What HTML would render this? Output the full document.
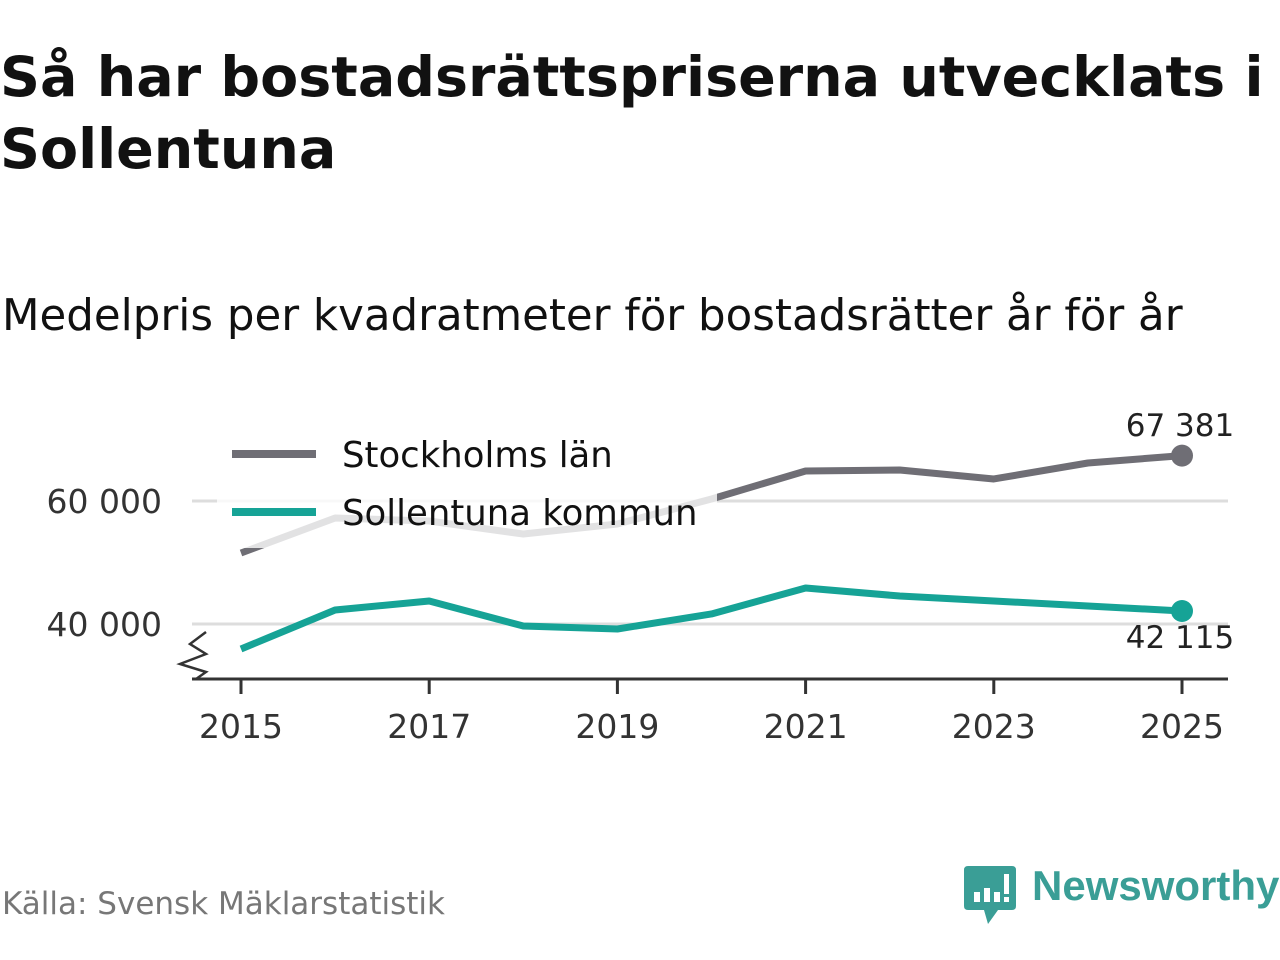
<!DOCTYPE html>
<html><head><meta charset="utf-8">
<style>
body{margin:0;width:1280px;height:960px;background:#fff;font-family:"DejaVu Sans",sans-serif;overflow:hidden;position:relative}
.t{position:absolute;left:0px;top:42px;font-size:55.5px;font-weight:bold;color:#111;line-height:72px;letter-spacing:0px}
.s{position:absolute;left:2px;top:291px;font-size:43.5px;color:#111}
.src{position:absolute;left:2px;top:886px;font-size:31px;color:#777}
.logo{position:absolute;left:1032px;top:862px;font-size:42px;color:#3a9e96;font-weight:bold;font-family:"Liberation Sans",sans-serif}
</style></head><body>
<div class="t">Så har bostadsrättspriserna utvecklats i<br>Sollentuna</div>
<div class="s">Medelpris per kvadratmeter för bostadsrätter år för år</div>
<div class="src">Källa: Svensk Mäklarstatistik</div>
<svg style="position:absolute;left:964px;top:866px" width="52" height="60">
<path d="M4 0 H48 Q52 0 52 4 V40 Q52 44 48 44 H34 L24 58 L20 44 H4 Q0 44 0 40 V4 Q0 0 4 0Z" fill="#3a9e96"/>
<rect x="10" y="26" width="6" height="10" fill="#fff"/><rect x="20" y="22" width="6" height="14" fill="#fff"/><rect x="30" y="26" width="6" height="10" fill="#fff"/><rect x="40" y="8" width="5" height="20" fill="#fff"/><rect x="40" y="31" width="5" height="5" fill="#fff"/>
</svg>
<div class="logo">Newsworthy</div>
<svg id="c" width="1280" height="960" style="position:absolute;left:0;top:0"></svg>
<script>
const years=[2015,2016,2017,2018,2019,2020,2021,2022,2023,2024,2025];
const stockholm=[51540,57240,56750,54630,56260,60330,64880,65040,63580,66180,67381];
const sollentuna=[35930,42280,43740,39670,39190,41630,45850,44550,43740,42930,42115];
const yTicks=[40000,60000];
const xTicks=[2015,2017,2019,2021,2023,2025];
const NS="http://www.w3.org/2000/svg";
const svg=document.getElementById('c');
const F='DejaVu Sans, sans-serif';
const x=v=>241+(v-2015)*94.1;
const y=v=>624-(v-40000)*123/20000;
function mk(t,a,p){const e=document.createElementNS(NS,t);for(const k in a)e.setAttribute(k,a[k]);(p||svg).appendChild(e);return e;}
const fmt=v=>String(v).replace(/\B(?=(\d{3})+(?!\d))/g,' ');
yTicks.forEach(v=>{
 const g=mk('line',{x1:192,x2:1228,y1:y(v),y2:y(v),stroke:'#ddd','stroke-width':3});
 
 
 const t=mk('text',{x:162,y:y(v)+12,'text-anchor':'end','font-size':33,fill:'#333','font-family':F});
 t.textContent=fmt(v);
 
 
});
const ax=mk('line',{x1:192,x2:1228,y1:679,y2:679,stroke:'#333','stroke-width':3});


const br=mk('path',{d:'M206 632 L190 644 L206 654 L180 664 L206 672 L196 679',fill:'none',stroke:'#333','stroke-width':2.5});


xTicks.forEach(v=>{
 const l=mk('line',{x1:x(v),x2:x(v),y1:679,y2:694,stroke:'#333','stroke-width':3});
 
 
 const t=mk('text',{x:x(v),y:738,'text-anchor':'middle','font-size':33,fill:'#333','font-family':F});
 t.textContent=v;
 
 
});
function series(vals,col,name){
 const d=vals.map((v,i)=>(i?'L':'M')+x(years[i])+' '+y(v)).join(' ');
 const p=mk('path',{d:d,fill:'none',stroke:col,'stroke-width':7,'stroke-linejoin':'round'});
 
 
 const c=mk('circle',{cx:x(years[years.length-1]),cy:y(vals[vals.length-1]),r:11,fill:col});
 
 
}
series(stockholm,'#6f6e75','stockholm');
series(sollentuna,'#16a396','sollentuna');
const l1=mk('text',{x:1180,y:436,'text-anchor':'middle','font-size':31,fill:'#222','font-family':F});
l1.textContent=fmt(stockholm[stockholm.length-1]);


const l2=mk('text',{x:1180,y:648,'text-anchor':'middle','font-size':31,fill:'#222','font-family':F});
l2.textContent=fmt(sollentuna[sollentuna.length-1]);


const lg=mk('g',{});


mk('rect',{x:217,y:420,width:500,height:128,fill:'#fff','fill-opacity':0.8},lg);
mk('line',{x1:232,x2:316,y1:454,y2:454,stroke:'#6f6e75','stroke-width':8},lg);
mk('line',{x1:232,x2:316,y1:512,y2:512,stroke:'#16a396','stroke-width':8},lg);
const e1=mk('text',{x:342,y:467,'font-size':35.5,fill:'#111','font-family':F},lg);
e1.textContent='Stockholms län';


const e2=mk('text',{x:342,y:525,'font-size':35.5,fill:'#111','font-family':F},lg);
e2.textContent='Sollentuna kommun';


</script>
</body></html>
